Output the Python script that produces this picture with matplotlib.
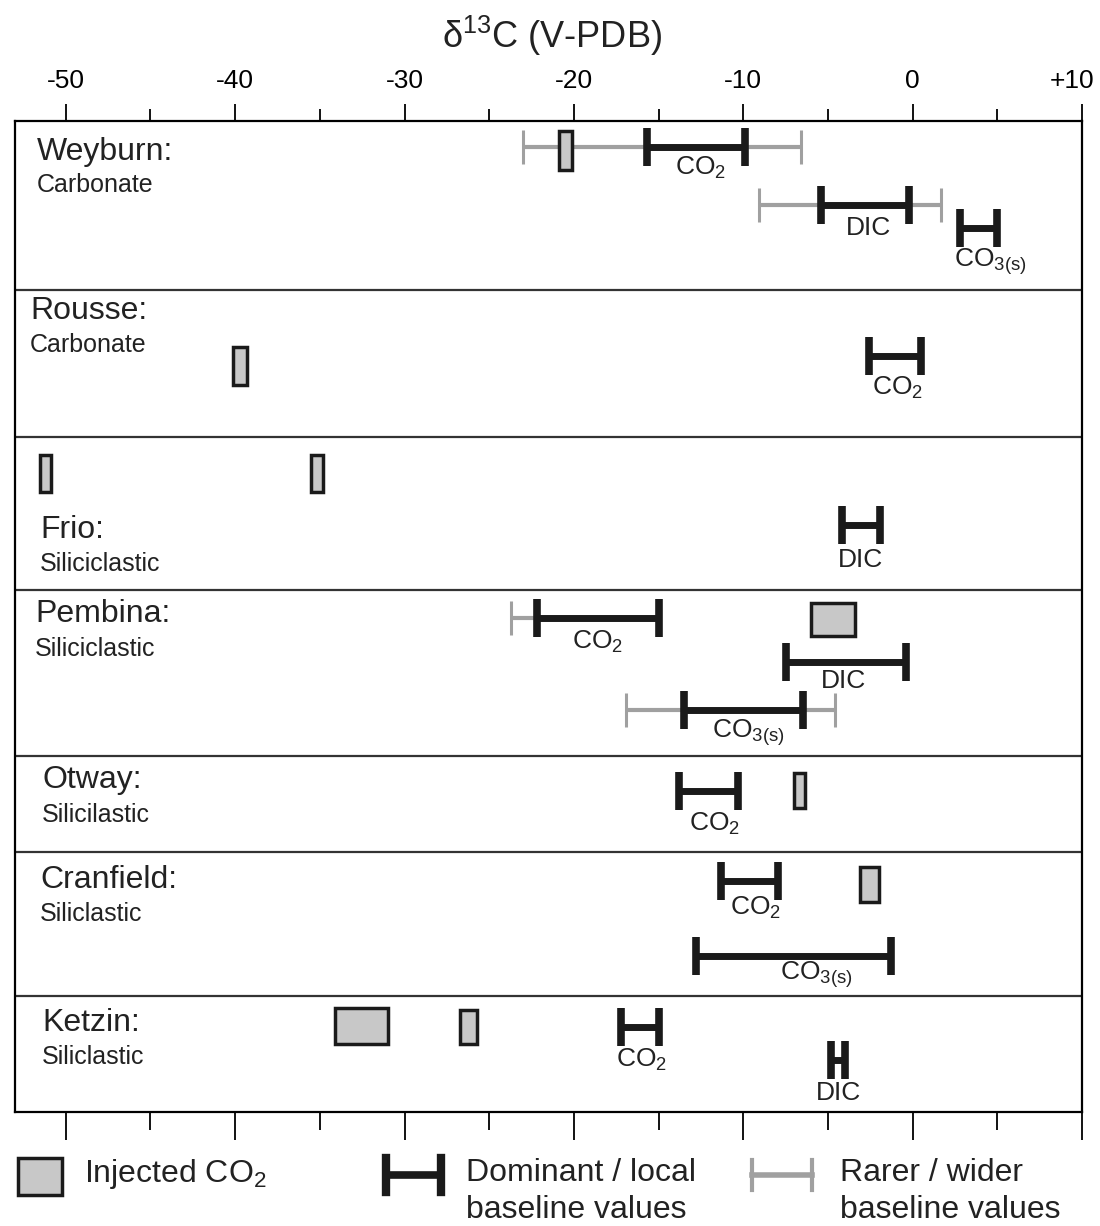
import matplotlib.pyplot as plt
import matplotlib.transforms as mtransforms
from matplotlib.patches import Rectangle
from matplotlib.lines import Line2D

plt.rcParams['font.family'] = ['Liberation Sans', 'DejaVu Sans']
plt.rcParams['mathtext.default'] = 'regular'

# Data (delta 13C, per mil V-PDB)
sites = ['Weyburn:', 'Rousse:', 'Frio:', 'Pembina:', 'Otway:', 'Cranfield:', 'Ketzin:']
rock_types = ['Carbonate', 'Carbonate', 'Siliciclastic', 'Siliciclastic',
              'Silicilastic', 'Siliclastic', 'Siliclastic']

# injected CO2 ranges: (site index, low, high)
injected = [(0, -20.9, -20.1), (1, -40.1, -39.3), (2, -51.5, -50.9), (2, -35.5, -34.8),
            (3, -6.0, -3.4), (4, -7.0, -6.35), (5, -3.1, -2.0),
            (6, -34.1, -31.0), (6, -26.7, -25.7)]

# dominant / local baseline: (site index, species, low, high)
dominant = [(0, 'CO2', -15.7, -9.9), (0, 'DIC', -5.4, -0.2), (0, 'CO3', 2.8, 5.0),
            (1, 'CO2', -2.55, 0.5), (2, 'DIC', -4.15, -1.95),
            (3, 'CO2', -22.2, -15.0), (3, 'DIC', -7.5, -0.4), (3, 'CO3', -13.5, -6.5),
            (4, 'CO2', -13.8, -10.3), (5, 'CO2', -11.3, -7.95), (5, 'CO3', -12.8, -1.3),
            (6, 'CO2', -17.2, -15.0), (6, 'DIC', -4.8, -4.0)]

# rarer / wider baseline: (site index, species, low, high)
wider = [(0, 'CO2', -23.0, -6.6), (0, 'DIC', -9.1, 1.7),
         (3, 'CO2', -23.7, -22.1), (3, 'CO3', -16.9, -4.6)]

tick_vals = [-50, -40, -30, -20, -10, 0, 10]
tick_labels = ['-50', '-40', '-30', '-20', '-10', '0', '+10']

species_labels = {'CO2': 'CO$_2$', 'DIC': 'DIC', 'CO3': 'CO$_{3(s)}$'}

# Layout (vertical positions in pixel-like units, top = 121, bottom = 1112)
panel_edges = [121, 290, 437, 590, 756, 852, 996, 1112]
name_pos = [(37, 152), (30, 311), (40, 530), (35, 614), (42, 780), (40, 880), (42, 1023)]
type_pos = [(37, 185), (30, 345), (40, 564), (35, 649), (42, 815), (40, 914), (42, 1057)]
box_y = {(0, 0): (131, 170), (1, 0): (347, 385), (2, 0): (455, 492), (2, 1): (455, 492),
         (3, 0): (603, 636), (4, 0): (773, 808), (5, 0): (867, 902),
         (6, 0): (1008, 1044), (6, 1): (1010, 1044)}
row_y = {(0, 'CO2'): 147, (0, 'DIC'): 205, (0, 'CO3'): 228, (1, 'CO2'): 356,
         (2, 'DIC'): 525, (3, 'CO2'): 618, (3, 'DIC'): 662, (3, 'CO3'): 710,
         (4, 'CO2'): 791, (5, 'CO2'): 881, (5, 'CO3'): 956,
         (6, 'CO2'): 1027, (6, 'DIC'): 1060}
label_pos = {(0, 'CO2'): (-12.5, 168), (0, 'DIC'): (-2.6, 228), (0, 'CO3'): (4.6, 262),
             (1, 'CO2'): (-0.9, 388), (2, 'DIC'): (-3.1, 560),
             (3, 'CO2'): (-18.6, 642), (3, 'DIC'): (-4.1, 681), (3, 'CO3'): (-9.7, 733),
             (4, 'CO2'): (-11.7, 824), (5, 'CO2'): (-9.3, 908), (5, 'CO3'): (-5.7, 975),
             (6, 'CO2'): (-16.0, 1060), (6, 'DIC'): (-4.4, 1093)}

DARK = '#1a1a1a'
GRAY = '#a0a0a0'
FILL = '#c8c8c8'

fig = plt.figure(figsize=(11, 12.26), dpi=100)
ax = fig.add_axes([15 / 1100, 1 - 1112 / 1226, 1067 / 1100, 991 / 1226])
ax.set_xlim(-53.0, 10.0)
ax.set_ylim(1112, 121)

# panel separators
for y in panel_edges[1:-1]:
    ax.axhline(y, color='#333333', lw=1.6, zorder=1)

# wider baseline (gray)
for i, sp, lo, hi in wider:
    y = row_y[(i, sp)]
    ax.errorbar((lo + hi) / 2, y, xerr=(hi - lo) / 2, fmt='none', ecolor=GRAY,
                elinewidth=3, capsize=12, capthick=2.2, zorder=2)

# dominant baseline (black)
for i, sp, lo, hi in dominant:
    y = row_y[(i, sp)]
    ax.errorbar((lo + hi) / 2, y, xerr=(hi - lo) / 2, fmt='none', ecolor=DARK,
                elinewidth=5, capsize=13.5, capthick=5.5, zorder=3)
    lx, ly = label_pos[(i, sp)]
    ax.text(lx, ly, species_labels[sp], ha='center', va='center', fontsize=19,
            color='#222222', zorder=4)

# injected CO2 boxes
counts = {}
for i, lo, hi in injected:
    k = counts.get(i, 0)
    counts[i] = k + 1
    y0, y1 = box_y[(i, k)]
    ax.add_patch(Rectangle((lo, y0), hi - lo, y1 - y0, facecolor=FILL,
                           edgecolor=DARK, lw=2.5, zorder=5))

ax.xaxis.tick_top()
ax.set_xticks(tick_vals)
ax.set_xticklabels(tick_labels)
ax.set_xticks(range(-45, 10, 10), minor=True)
ax.tick_params(axis='x', which='major', length=12, width=1.3, labelsize=19, pad=8)
ax.tick_params(axis='x', which='minor', length=9, width=1.3)
ax.set_yticks([])
for s in ax.spines.values():
    s.set_linewidth(1.6)
# keep "+10" inside the figure
last = ax.get_xticklabels()[-1]
last.set_transform(last.get_transform() +
                   mtransforms.ScaledTranslation(-10 / 100, 0, fig.dpi_scale_trans))

sec = ax.secondary_xaxis('bottom')
sec.set_xticks(tick_vals)
sec.set_xticks(range(-45, 10, 10), minor=True)
sec.tick_params(which='major', length=20, width=1.3, labelbottom=False)
sec.tick_params(which='minor', length=13, width=1.3)
sec.spines['bottom'].set_visible(False)

# overlay in pixel coordinates for text and legend
ov = fig.add_axes([0, 0, 1, 1], zorder=10)
ov.set_xlim(0, 1100)
ov.set_ylim(1226, 0)
ov.axis('off')
ov.patch.set_alpha(0)

ov.text(552, 36, '\u03b4$^{13}$C (V-PDB)', ha='center', va='center', fontsize=26,
        color='#222222')

for (nx, ny), (tx, ty), name, rt in zip(name_pos, type_pos, sites, rock_types):
    ov.text(nx, ny, name, ha='left', va='center', fontsize=23, color='#222222')
    ov.text(tx, ty, rt, ha='left', va='center', fontsize=18, color='#222222')

# legend
ov.add_patch(Rectangle((18, 1158), 44, 37, facecolor=FILL, edgecolor=DARK, lw=2.5))
ov.text(84, 1174, 'Injected CO$_2$', ha='left', va='center', fontsize=23, color='#222222')
ov.add_line(Line2D([386, 441], [1175, 1175], color=DARK, lw=5.5))
ov.add_line(Line2D([386, 386], [1158, 1192], color=DARK, lw=6))
ov.add_line(Line2D([441, 441], [1158, 1192], color=DARK, lw=6))
ov.text(466, 1173, 'Dominant / local', ha='left', va='center', fontsize=23, color='#222222')
ov.text(466, 1210, 'baseline values', ha='left', va='center', fontsize=23, color='#222222')
ov.add_line(Line2D([752, 812], [1175, 1175], color=GRAY, lw=4))
ov.add_line(Line2D([752, 752], [1160, 1190], color=GRAY, lw=3))
ov.add_line(Line2D([812, 812], [1160, 1190], color=GRAY, lw=3))
ov.text(840, 1173, 'Rarer / wider', ha='left', va='center', fontsize=23, color='#222222')
ov.text(840, 1210, 'baseline values', ha='left', va='center', fontsize=23, color='#222222')

fig.savefig('out.png', dpi=100)
